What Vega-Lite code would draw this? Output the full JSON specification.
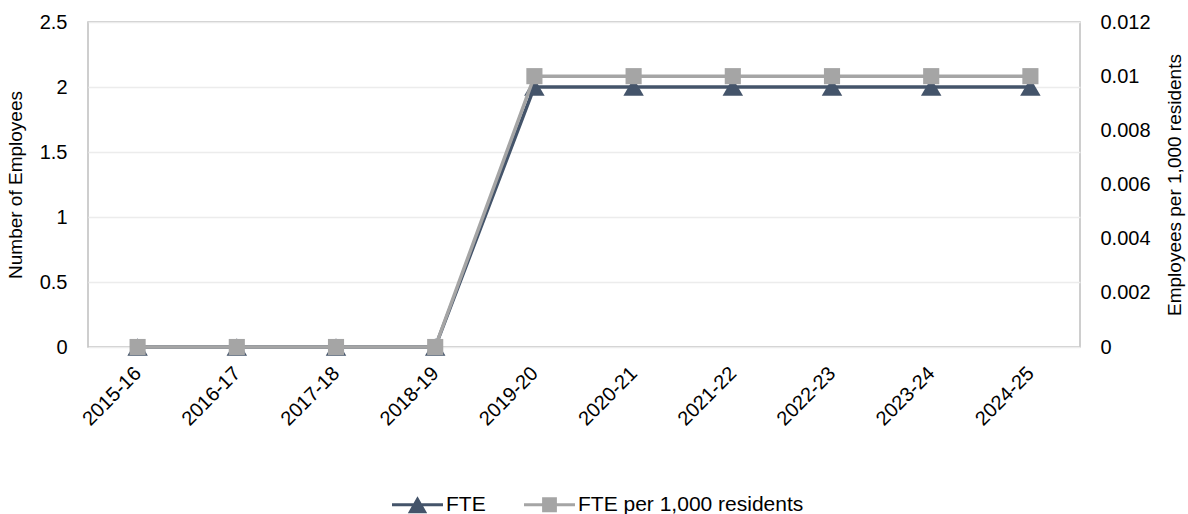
{
  "$schema": "https://vega.github.io/schema/vega-lite/v6.json",
  "width": 992,
  "height": 325,
  "autosize": {"type": "none"},
  "padding": {"left": 88, "top": 22, "right": 108, "bottom": 167},
  "config": {
    "font": "Liberation Sans",
    "view": {"stroke": "#bfbfbf", "strokeWidth": 1.5},
    "axis": {"labelFont": "Liberation Sans", "titleFont": "Liberation Sans", "labelColor": "#000000", "titleColor": "#000000", "labelFontSize": 20, "titleFontSize": 19, "titleFontWeight": "normal", "domain": false, "ticks": false},
    "legend": {"labelFont": "Liberation Sans", "labelFontSize": 21, "labelColor": "#000000", "labelLimit": 500}
  },
  "data": {
    "values": [
      {"year": "2015-16", "series": "FTE", "value": 0},
      {"year": "2016-17", "series": "FTE", "value": 0},
      {"year": "2017-18", "series": "FTE", "value": 0},
      {"year": "2018-19", "series": "FTE", "value": 0},
      {"year": "2019-20", "series": "FTE", "value": 2},
      {"year": "2020-21", "series": "FTE", "value": 2},
      {"year": "2021-22", "series": "FTE", "value": 2},
      {"year": "2022-23", "series": "FTE", "value": 2},
      {"year": "2023-24", "series": "FTE", "value": 2},
      {"year": "2024-25", "series": "FTE", "value": 2},
      {"year": "2015-16", "series": "FTE per 1,000 residents", "value": 0},
      {"year": "2016-17", "series": "FTE per 1,000 residents", "value": 0},
      {"year": "2017-18", "series": "FTE per 1,000 residents", "value": 0},
      {"year": "2018-19", "series": "FTE per 1,000 residents", "value": 0},
      {"year": "2019-20", "series": "FTE per 1,000 residents", "value": 0.01},
      {"year": "2020-21", "series": "FTE per 1,000 residents", "value": 0.01},
      {"year": "2021-22", "series": "FTE per 1,000 residents", "value": 0.01},
      {"year": "2022-23", "series": "FTE per 1,000 residents", "value": 0.01},
      {"year": "2023-24", "series": "FTE per 1,000 residents", "value": 0.01},
      {"year": "2024-25", "series": "FTE per 1,000 residents", "value": 0.01}
    ]
  },
  "encoding": {
    "x": {
      "field": "year",
      "type": "ordinal",
      "scale": {"type": "point", "padding": 0.5},
      "axis": {"title": null, "labelAngle": -45, "labelAlign": "right", "labelBaseline": "middle", "labelPadding": 23, "labelFontSize": 20, "grid": false}
    },
    "color": {
      "field": "series",
      "type": "nominal",
      "scale": {"domain": ["FTE", "FTE per 1,000 residents"], "range": ["#44546a", "#a5a5a5"]},
      "legend": {
        "title": null,
        "orient": "none",
        "direction": "horizontal",
        "legendX": 304,
        "legendY": 457,
        "symbolSize": 2600,
        "labelOffset": 3,
        "columnPadding": 38,
        "encode": {
          "symbols": {
            "update": {
              "shape": {"signal": "datum.value === 'FTE' ? 'M-1,-0.06L1,-0.06L1,0.06L-1,0.06Z M-0.38,0.33L0,-0.33L0.38,0.33Z' : 'M-1,-0.06L1,-0.06L1,0.06L-1,0.06Z M-0.29,-0.29L0.29,-0.29L0.29,0.29L-0.29,0.29Z'"},
              "fill": {"scale": "color", "field": "value"},
              "fillOpacity": {"value": 1},
              "opacity": {"value": 1},
              "strokeWidth": {"value": 0}
            }
          }
        }
      }
    }
  },
  "layer": [
    {
      "transform": [{"filter": "datum.series === 'FTE'"}],
      "mark": {"type": "line", "strokeWidth": 3.5, "point": {"shape": "triangle-up", "size": 420, "filled": true, "opacity": 1}},
      "encoding": {
        "y": {
          "field": "value",
          "type": "quantitative",
          "scale": {"domain": [0, 2.5], "nice": false},
          "axis": {"title": "Number of Employees", "orient": "left", "values": [0, 0.5, 1, 1.5, 2, 2.5], "format": "~g", "grid": true, "gridColor": "#ececec", "gridWidth": 1.5, "labelPadding": 21, "titlePadding": 14}
        }
      }
    },
    {
      "transform": [{"filter": "datum.series === 'FTE per 1,000 residents'"}],
      "mark": {"type": "line", "strokeWidth": 3.5, "point": {"shape": "square", "size": 260, "filled": true, "opacity": 1, "cornerRadius": 2}},
      "encoding": {
        "y": {
          "field": "value",
          "type": "quantitative",
          "scale": {"domain": [0, 0.012], "nice": false},
          "axis": {"title": "Employees per 1,000 residents", "orient": "right", "values": [0, 0.002, 0.004, 0.006, 0.008, 0.01, 0.012], "format": "~g", "grid": false, "labelPadding": 20, "titleAngle": -90, "titlePadding": 34}
        }
      }
    }
  ],
  "resolve": {"scale": {"y": "independent"}}
}
